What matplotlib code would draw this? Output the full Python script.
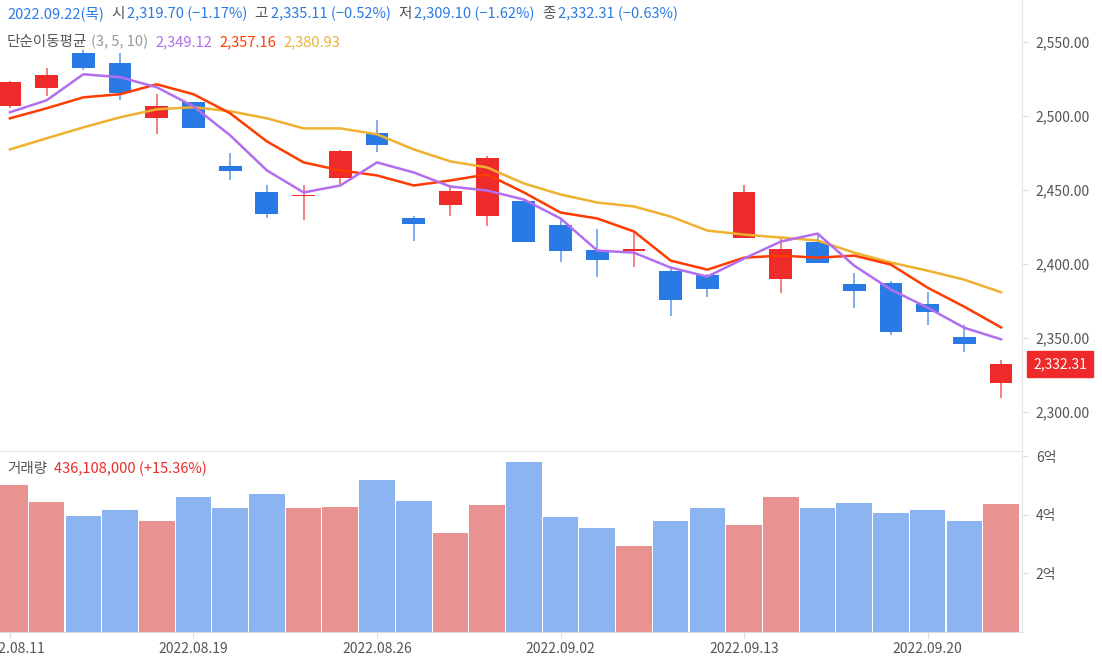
import numpy as np
import matplotlib.pyplot as plt
from matplotlib.ticker import FixedLocator, FuncFormatter

plt.rcParams['font.family'] = ['Noto Sans CJK KR', 'DejaVu Sans']

dates = ['2022.08.11', '2022.08.12', '2022.08.16', '2022.08.17', '2022.08.18', '2022.08.19',
         '2022.08.22', '2022.08.23', '2022.08.24', '2022.08.25', '2022.08.26',
         '2022.08.29', '2022.08.30', '2022.08.31', '2022.09.01', '2022.09.02',
         '2022.09.05', '2022.09.06', '2022.09.07', '2022.09.08',
         '2022.09.13', '2022.09.14', '2022.09.15', '2022.09.16',
         '2022.09.19', '2022.09.20', '2022.09.21', '2022.09.22']
opens = [2506.6, 2518.8, 2542.5, 2535.8, 2498.5, 2509.3, 2466.0, 2448.4, 2445.7, 2458.5,
         2488.3, 2431.4, 2440.2, 2432.8, 2442.3, 2426.7, 2409.8, 2409.1, 2395.5, 2392.8,
         2417.9, 2390.1, 2415.2, 2386.7, 2387.4, 2373.2, 2350.8, 2319.70]
highs = [2524.0, 2532.4, 2544.6, 2542.5, 2514.8, 2509.3, 2474.8, 2453.1, 2453.1, 2476.9,
         2497.2, 2432.8, 2453.1, 2472.8, 2443.0, 2431.4, 2424.0, 2422.0, 2397.6, 2393.5,
         2453.1, 2417.9, 2420.6, 2394.2, 2388.8, 2381.3, 2359.0, 2335.11]
lows = [2505.3, 2513.4, 2531.0, 2510.7, 2487.7, 2491.7, 2456.5, 2430.8, 2430.1, 2453.8,
        2475.5, 2415.9, 2432.8, 2426.0, 2415.2, 2401.6, 2391.5, 2398.2, 2365.0, 2377.9,
        2417.9, 2380.6, 2401.0, 2370.5, 2352.2, 2359.0, 2340.7, 2309.10]
closes = [2522.9, 2527.6, 2532.4, 2515.4, 2506.6, 2491.7, 2462.6, 2434.1, 2446.3, 2476.2,
          2480.2, 2427.4, 2449.7, 2471.4, 2415.2, 2409.1, 2403.0, 2410.4, 2375.9, 2383.3,
          2448.4, 2410.4, 2401.0, 2382.0, 2354.2, 2367.8, 2346.1, 2332.31]
ma3 = [2502.6, 2510.7, 2528.3, 2526.3, 2519.5, 2506.6, 2487.0, 2463.3, 2448.4, 2453.1,
       2468.7, 2461.9, 2452.4, 2449.7, 2443.6, 2430.8, 2409.1, 2407.7, 2397.6, 2391.5,
       2403.7, 2415.2, 2420.6, 2398.9, 2382.7, 2370.5, 2356.9, 2349.12]
ma5 = [2498.5, 2505.3, 2512.7, 2514.8, 2521.5, 2514.8, 2501.9, 2482.9, 2468.7, 2463.3,
       2459.9, 2453.1, 2456.5, 2460.6, 2448.4, 2434.8, 2430.8, 2422.0, 2402.3, 2396.2,
       2404.3, 2405.7, 2404.3, 2405.7, 2399.6, 2384.0, 2371.1, 2357.16]
ma10 = [2477.5, 2485.0, 2492.4, 2499.2, 2504.6, 2506.0, 2503.3, 2498.5, 2491.7, 2491.7,
        2487.7, 2477.5, 2469.4, 2465.3, 2454.5, 2447.0, 2441.6, 2438.9, 2432.1, 2422.6,
        2419.9, 2417.9, 2415.9, 2407.7, 2401.0, 2395.5, 2389.4, 2380.93]
# volume in 억 (100 million)
volumes = [5.03, 4.44, 3.97, 4.17, 3.79, 4.62, 4.24, 4.72, 4.24, 4.27,
           5.20, 4.48, 3.38, 4.34, 5.81, 3.93, 3.56, 2.94, 3.79, 4.24,
           3.66, 4.62, 4.24, 4.41, 4.07, 4.17, 3.79, 4.36108]
date_ticks = [0, 5, 10, 15, 20, 25]
price_ticks = [2300, 2350, 2400, 2450, 2500, 2550]
vol_ticks = [2, 4, 6]

RED, BLUE = '#ee2a2a', '#2a7ae6'
VRED, VBLUE = '#e89391', '#8cb4f0'
GRAY = '#555555'

W, H = 1102, 663
fig = plt.figure(figsize=(W / 100, H / 100), dpi=100)
ax = fig.add_axes([0, 1 - 451 / H, 1022 / W, 451 / H])
axv = fig.add_axes([0, 1 - 632 / H, 1022 / W, 180 / H], sharex=ax)

x = np.arange(len(dates))
up = np.array(closes) >= np.array(opens)
for i in x:
    c = RED if up[i] else BLUE
    ax.vlines(i, lows[i], highs[i], color=c, lw=1.2, alpha=0.7, zorder=2)
    lo, hi = min(opens[i], closes[i]), max(opens[i], closes[i])
    ax.bar(i, max(hi - lo, 0.8), bottom=lo, width=0.62, color=c, zorder=3)

ax.plot(x, ma10, color='#f0b030', lw=1.8, zorder=4)
ax.plot(x, ma5, color='#ff3b00', lw=1.8, zorder=4)
ax.plot(x, ma3, color='#b36ef0', lw=1.8, zorder=4)

axv.bar(x, volumes, width=0.97, color=[VRED if u else VBLUE for u in up])

ax.set_xlim(-0.27, 27.57)
ax.set_ylim(2273.6, 2578.5)
axv.set_ylim(0, 6.15)

for a in (ax, axv):
    for s in ['left', 'top', 'bottom']:
        a.spines[s].set_visible(False)
    a.spines['right'].set_color('#e6e6e6')
    a.yaxis.tick_right()
    a.tick_params(axis='y', length=4, color='#dddddd', labelcolor=GRAY, labelsize=10, pad=6)
ax.spines['bottom'].set_visible(True)
ax.spines['bottom'].set_color('#e6e6e6')
ax.tick_params(axis='x', bottom=False, labelbottom=False)
ax.yaxis.set_major_locator(FixedLocator(price_ticks))
ax.yaxis.set_major_formatter(FuncFormatter(lambda v, p: f'{v:,.2f}'))
axv.yaxis.set_major_locator(FixedLocator(vol_ticks))
axv.yaxis.set_major_formatter(FuncFormatter(lambda v, p: f'{int(v)}억'))
axv.set_xticks(date_ticks)
axv.set_xticklabels([dates[i] for i in date_ticks])
axv.tick_params(axis='x', length=4, color='#dddddd', labelcolor=GRAY, labelsize=10)
axv.spines['bottom'].set_visible(True)
axv.spines['bottom'].set_color('#dddddd')

# last price tag
ax.annotate(f'{closes[-1]:,.2f}', xy=(1.0, closes[-1]), xycoords=('axes fraction', 'data'),
            xytext=(8, 0), textcoords='offset points', ha='left', va='center',
            color='white', fontsize=10,
            bbox=dict(boxstyle='square,pad=0.45', fc=RED, ec=RED))

renderer = fig.canvas.get_renderer()

def chain(px, py, parts, size=10.5):
    # parts: (text, color, gap after in px)
    for s, color, gap in parts:
        t = fig.text(px / W, 1 - py / H, s, color=color, fontsize=size, va='center', ha='left')
        px += t.get_window_extent(renderer).width + gap

chain(7, 14, [('2022.09.22(목)', BLUE, 7), ('시', GRAY, 3), ('2,319.70 (−1.17%)', BLUE, 7),
              ('고', GRAY, 3), ('2,335.11 (−0.52%)', BLUE, 7), ('저', GRAY, 3),
              ('2,309.10 (−1.62%)', BLUE, 7), ('종', GRAY, 3), ('2,332.31 (−0.63%)', BLUE, 0)])
chain(7, 42, [('단순이동평균', GRAY, 4), ('(3, 5, 10)', '#999999', 7), ('2,349.12', '#b36ef0', 7),
              ('2,357.16', '#ff3b00', 7), ('2,380.93', '#f0b030', 0)])
chain(7, 469, [('거래량', GRAY, 7), ('436,108,000 (+15.36%)', RED, 0)])

fig.savefig('out.png', dpi=100)
